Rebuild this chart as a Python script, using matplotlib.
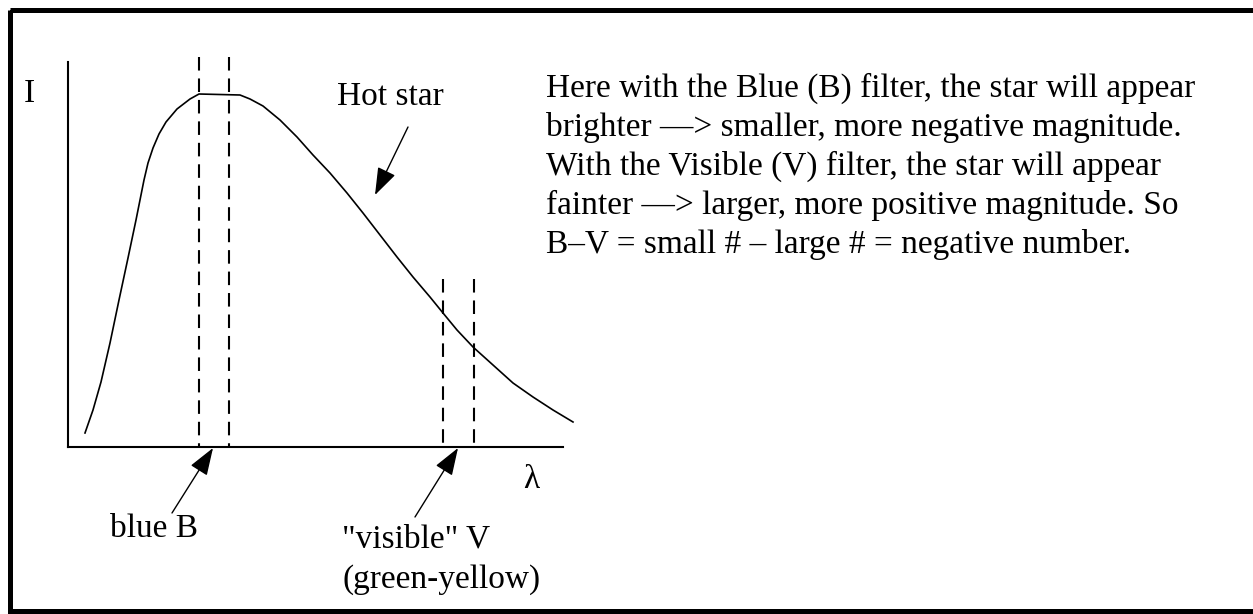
import matplotlib
matplotlib.use("Agg")
import matplotlib.pyplot as plt
from matplotlib.patches import FancyArrowPatch, Rectangle

plt.rcParams['font.family'] = ['Liberation Serif', 'DejaVu Serif']

# curve of a hot star (arbitrary units: wavelength, intensity)
wavelength = [17, 25, 33, 42, 51, 60, 68, 76, 80, 85, 91, 98, 109, 122, 131, 172,
              182, 195, 212, 229, 245, 262, 279, 295, 312, 329, 345, 362, 375,
              389, 405, 425, 445, 465, 485, 505]
intensity = [14, 37, 65, 104, 147, 189, 227, 267, 284, 299, 313, 325, 338, 348, 353, 352,
             348, 341, 327, 310, 292, 274, 254, 234, 212, 190, 170, 150, 134,
             117, 100, 82, 64, 50, 37, 25]

# filter band edges and dashed line heights
b_band = [131, 161]
v_band = [375, 406]
b_top = 390
v_top = 168

paragraph = [
    "Here with the Blue (B) filter, the star will appear",
    "brighter \u2014> smaller, more negative magnitude.",
    "With the Visible (V) filter, the star will appear",
    "fainter \u2014> larger, more positive magnitude. So",
    "B\u2013V = small # \u2013 large # = negative number.",
]

W, H = 1253, 614
fig = plt.figure(figsize=(W / 100, H / 100), dpi=100)

# overlay in pixel coordinates for labels, arrows and frame
ov = fig.add_axes([0, 0, 1, 1])
ov.set_xlim(0, W)
ov.set_ylim(H, 0)
ov.axis('off')

# the chart itself
ax = fig.add_axes([68 / W, (H - 447) / H, 507 / W, 390 / H])
ax.set_xlim(0, 507)
ax.set_ylim(0, 390)
ax.patch.set_alpha(0)
ax.set_xticks([])
ax.set_yticks([])
for s in ['top', 'right']:
    ax.spines[s].set_visible(False)
for s in ['left', 'bottom']:
    ax.spines[s].set_linewidth(1.5)
ax.spines['left'].set_bounds(0, 385)
ax.spines['bottom'].set_bounds(0, 495)

ax.plot(wavelength, intensity, color='black', lw=1.2)
for x in b_band:
    ax.plot([x, x], [b_top, 0], color='black', lw=1.5, ls=(0, (6.5, 3.8)))
for x in v_band:
    ax.plot([x, x], [v_top, 0], color='black', lw=1.5, ls=(0, (6.5, 3.8)))

fs = 24
ov.text(29, 102, "I", fontsize=fs, ha='center', va='baseline')
ov.text(531, 488, "\u03bb", fontsize=fs, ha='center', va='baseline')
ov.text(390, 105, "Hot star", fontsize=fs, ha='center', va='baseline')
ov.text(110, 537, "blue B", fontsize=fs, ha='left', va='baseline')
ov.text(342, 548, "\"visible\" V", fontsize=fs, ha='left', va='baseline')
ov.text(342, 588, "(green-yellow)", fontsize=fs, ha='left', va='baseline')
for i, line in enumerate(paragraph):
    ov.text(546, 97 + 39 * i, line, fontsize=fs, ha='left', va='baseline')

arrows = [((172, 513), (213, 448)), ((415, 517), (458, 448)), ((408, 127), (375, 195))]
for tail, tip in arrows:
    ov.add_patch(FancyArrowPatch(tail, tip, arrowstyle='-|>,head_length=17,head_width=6',
                                 mutation_scale=1, lw=1.0, color='black',
                                 shrinkA=0, shrinkB=0))

ov.add_patch(Rectangle((9.5, 9.5), 1300, 601.5, fill=False, lw=3.6,
                       edgecolor='black', clip_on=False))

fig.savefig('out.png', dpi=100)
